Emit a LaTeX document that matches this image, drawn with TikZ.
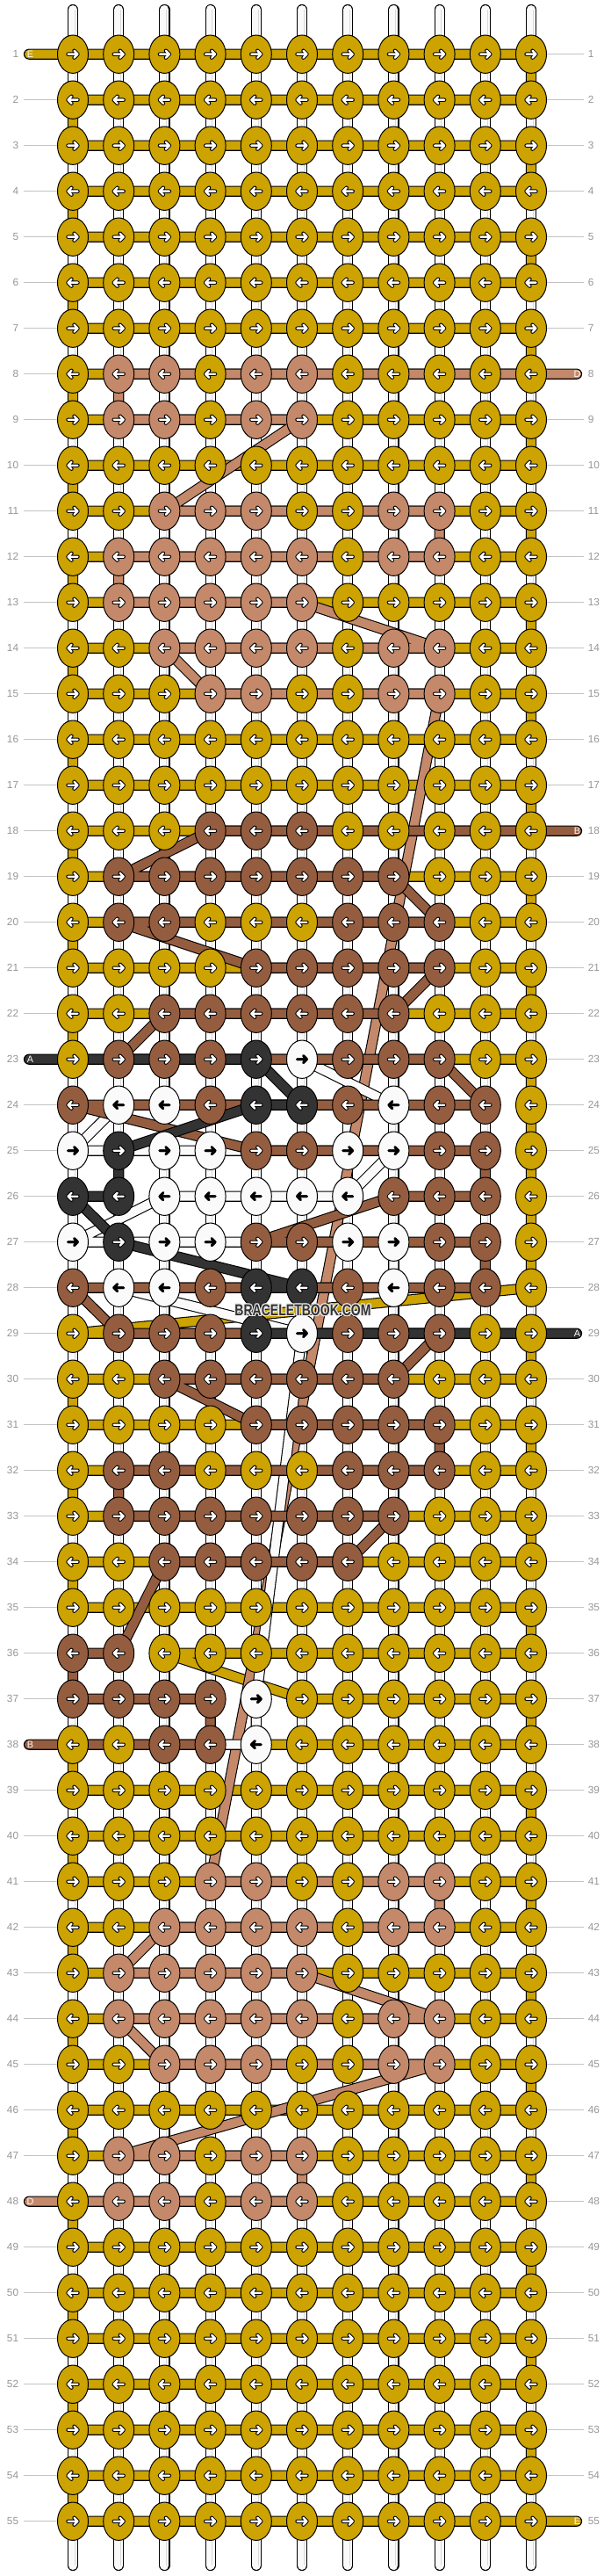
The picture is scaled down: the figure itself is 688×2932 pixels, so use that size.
\documentclass[tikz,border=0pt]{standalone}
\usepackage{fontspec}
\setmainfont{Liberation Sans}
\usetikzlibrary{shapes.geometric,calc}

\definecolor{colY}{RGB}{204,163,0}
\definecolor{colS}{RGB}{196,137,106}
\definecolor{colB}{RGB}{149,93,64}
\definecolor{colK}{RGB}{51,51,51}
\definecolor{colW}{RGB}{250,250,250}
\definecolor{labelgray}{RGB}{150,150,150}
\definecolor{linegray}{RGB}{195,195,195}

\tikzset{
  knot/.style={ellipse, draw=black, line width=0.5pt, minimum width=17.5pt, minimum height=21.7pt, inner sep=0pt},
  knotY/.style={knot, fill=colY},
  knotS/.style={knot, fill=colS},
  knotB/.style={knot, fill=colB},
  knotK/.style={knot, fill=colK},
  knotW/.style={knot, fill=colW},
  thread/.style={double distance=5pt, line width=0.55pt, line join=round, line cap=round},
  threadY/.style={thread, double=colY},
  threadS/.style={thread, double=colS},
  threadB/.style={thread, double=colB},
  threadK/.style={thread, double=colK},
  threadW/.style={thread, double=colW},
  basestring/.style={thread, double=colW},
  basecore/.style={draw=black!15, line width=0.3pt},
  back Y/.style={draw=black, line width=2.2pt, line cap=round, line join=round},
  back S/.style={back Y}, back B/.style={back Y}, back K/.style={back Y},
  back W/.style={draw=black, line width=1.4pt, line cap=round, line join=round},
  arr Y/.style={draw=white, line width=1.2pt, line cap=round, line join=round},
  arr S/.style={arr Y}, arr B/.style={arr Y}, arr K/.style={arr Y},
  arr W/.style={back W},
  rowlabel/.style={text=labelgray, font=\fontsize{5.9pt}{6pt}\selectfont, inner xsep=2.5pt, inner ysep=0pt},
  rowline/.style={draw=linegray, line width=0.5pt},
  tag/.style={text=white, font=\fontsize{5.4pt}{6pt}\selectfont, inner sep=0pt},
  watermark/.style={text=black!80, font=\bfseries\fontsize{9pt}{10pt}\selectfont, inner sep=0pt},
  halo/.style={watermark, text=white!92!black},
}

\begin{document}
\begin{tikzpicture}[x=0.5pt, y=-0.5pt]
%
    \fill[white] (0,0) rectangle (688,2932);
    \useasboundingbox (0,0) rectangle (688,2932);
%
    % knot grid
    \foreach \r in {1,...,55}
      \foreach \c in {1,...,11}
        \coordinate (p-\r-\c) at ({344+52.2*(\c-6)},{61.7+52*(\r-1)});
%
    % white base strings
    \foreach \c in {1,...,11} {
      \coordinate (top-\c) at ({344+52.2*(\c-6)},11);
      \coordinate (bot-\c) at ({344+52.2*(\c-6)},2920);
      \draw[basestring] (top-\c) -- (bot-\c);
      \draw[basecore] ([xshift=1pt]top-\c) -- ([xshift=1pt]bot-\c);
    }
%
    % loose ends
    \coordinate (in-E)  at (33,61.7);
    \coordinate (out-E) at (657,2869.7);
    \coordinate (in-D)  at (657,425.7);
    \coordinate (out-D) at (33,2505.7);
    \coordinate (in-B)  at (657,945.7);
    \coordinate (out-B) at (33,1985.7);
    \coordinate (in-A)  at (33,1205.7);
    \coordinate (out-A) at (657,1517.7);
%
    % E, yellow
    \draw[threadY] (in-E)
      \foreach \r [evaluate=\r as \s using int(\r+1)] in {1,3,...,21} { -- (p-\r-1) -- (p-\r-11) -- (p-\s-11) -- (p-\s-1) }
      -- (p-23-1) -- (p-23-11) -- (p-28-11) -- (p-29-1) -- (p-29-11)
      \foreach \r [evaluate=\r as \s using int(\r+1)] in {30,32,34} { -- (p-\r-11) -- (p-\r-1) -- (p-\s-1) -- (p-\s-11) }
      -- (p-36-11) -- (p-36-3) -- (p-37-6) -- (p-37-11) -- (p-38-11) -- (p-38-1)
      \foreach \r [evaluate=\r as \s using int(\r+1)] in {39,41,...,53} { -- (p-\r-1) -- (p-\r-11) -- (p-\s-11) -- (p-\s-1) }
      -- (p-55-1) -- (p-55-11) -- (out-E);
%
    % D, salmon
    \draw[threadS] (in-D) -- (p-8-2) -- (p-9-2) -- (p-9-6) -- (p-11-3) -- (p-11-9) -- (p-12-9) -- (p-12-2)
      -- (p-13-2) -- (p-13-6) -- (p-14-9) -- (p-14-3) -- (p-15-4) -- (p-15-9) -- (p-41-4) -- (p-41-9)
      -- (p-42-9) -- (p-42-3) -- (p-43-2) -- (p-43-6) -- (p-44-9) -- (p-44-2) -- (p-45-3) -- (p-45-9)
      -- (p-47-2) -- (p-47-6) -- (p-48-6) -- (out-D);
%
    % C, white
    \draw[threadW] (p-23-6) -- (p-24-8) -- (p-24-2) -- (p-25-1) -- (p-25-8) -- (p-26-7) -- (p-26-3)
      -- (p-27-1) -- (p-27-8) -- (p-28-8) -- (p-28-2) -- (p-29-6) -- (p-37-5) -- (p-38-5) -- (p-38-4);
%
    % B, brown
    \draw[threadB] (in-B) -- (p-18-4) -- (p-19-2) -- (p-19-8) -- (p-20-9) -- (p-20-2) -- (p-21-5) -- (p-21-9)
      -- (p-22-8) -- (p-22-3) -- (p-23-2) -- (p-23-9) -- (p-24-10) -- (p-24-1) -- (p-25-5) -- (p-25-10)
      -- (p-26-10) -- (p-26-8) -- (p-27-5) -- (p-27-10) -- (p-28-10) -- (p-28-1) -- (p-29-2) -- (p-29-9)
      -- (p-30-8) -- (p-30-3) -- (p-31-5) -- (p-31-9) -- (p-32-9) -- (p-32-2) -- (p-33-2) -- (p-33-8)
      -- (p-34-7) -- (p-34-3) -- (p-36-2) -- (p-36-1) -- (p-37-1) -- (p-37-4) -- (p-38-4) -- (out-B);
%
    % A, dark
    \draw[threadK] (in-A) -- (p-23-5) -- (p-24-6) -- (p-24-5) -- (p-25-2) -- (p-26-2) -- (p-26-1)
      -- (p-27-2) -- (p-28-6) -- (p-28-5) -- (p-29-5) -- (out-A);
%
    % knots, row by row
    \foreach \row [count=\r] in {
      {Y,Y,Y,Y,Y,Y,Y,Y,Y,Y,Y},{Y,Y,Y,Y,Y,Y,Y,Y,Y,Y,Y},{Y,Y,Y,Y,Y,Y,Y,Y,Y,Y,Y},{Y,Y,Y,Y,Y,Y,Y,Y,Y,Y,Y},
      {Y,Y,Y,Y,Y,Y,Y,Y,Y,Y,Y},{Y,Y,Y,Y,Y,Y,Y,Y,Y,Y,Y},{Y,Y,Y,Y,Y,Y,Y,Y,Y,Y,Y},
      {Y,S,S,Y,S,S,Y,Y,Y,Y,Y},{Y,S,S,Y,S,S,Y,Y,Y,Y,Y},{Y,Y,Y,Y,Y,Y,Y,Y,Y,Y,Y},
      {Y,Y,S,S,S,Y,Y,S,S,Y,Y},{Y,S,S,S,S,S,Y,S,S,Y,Y},{Y,S,S,S,S,S,Y,Y,Y,Y,Y},
      {Y,Y,S,S,S,S,Y,S,S,Y,Y},{Y,Y,Y,S,S,Y,Y,S,S,Y,Y},{Y,Y,Y,Y,Y,Y,Y,Y,Y,Y,Y},
      {Y,Y,Y,Y,Y,Y,Y,Y,Y,Y,Y},{Y,Y,Y,B,B,B,Y,Y,Y,Y,Y},{Y,B,B,B,B,B,B,B,Y,Y,Y},
      {Y,B,B,Y,Y,Y,B,B,B,Y,Y},{Y,Y,Y,Y,B,B,B,B,B,Y,Y},{Y,Y,B,B,B,B,B,B,Y,Y,Y},
      {Y,B,B,B,K,W,B,B,B,Y,Y},{B,W,W,B,K,K,B,W,B,B,Y},{W,K,W,W,B,B,W,W,B,B,Y},
      {K,K,W,W,W,W,W,B,B,B,Y},{W,K,W,W,B,B,W,W,B,B,Y},{B,W,W,B,K,K,B,W,B,B,Y},
      {Y,B,B,B,K,W,B,B,B,Y,Y},{Y,Y,B,B,B,B,B,B,Y,Y,Y},{Y,Y,Y,Y,B,B,B,B,B,Y,Y},
      {Y,B,B,Y,Y,Y,B,B,B,Y,Y},{Y,B,B,B,B,B,B,B,Y,Y,Y},{Y,Y,B,B,B,B,B,Y,Y,Y,Y},
      {Y,Y,Y,Y,Y,Y,Y,Y,Y,Y,Y},{B,B,Y,Y,Y,Y,Y,Y,Y,Y,Y},{B,B,B,B,W,Y,Y,Y,Y,Y,Y},
      {Y,Y,B,B,W,Y,Y,Y,Y,Y,Y},{Y,Y,Y,Y,Y,Y,Y,Y,Y,Y,Y},{Y,Y,Y,Y,Y,Y,Y,Y,Y,Y,Y},
      {Y,Y,Y,S,S,Y,Y,S,S,Y,Y},{Y,Y,S,S,S,S,Y,S,S,Y,Y},{Y,S,S,S,S,S,Y,Y,Y,Y,Y},
      {Y,S,S,S,S,S,Y,S,S,Y,Y},{Y,Y,S,S,S,Y,Y,S,S,Y,Y},{Y,Y,Y,Y,Y,Y,Y,Y,Y,Y,Y},
      {Y,S,S,Y,S,S,Y,Y,Y,Y,Y},{Y,S,S,Y,S,S,Y,Y,Y,Y,Y},{Y,Y,Y,Y,Y,Y,Y,Y,Y,Y,Y},
      {Y,Y,Y,Y,Y,Y,Y,Y,Y,Y,Y},{Y,Y,Y,Y,Y,Y,Y,Y,Y,Y,Y},{Y,Y,Y,Y,Y,Y,Y,Y,Y,Y,Y},
      {Y,Y,Y,Y,Y,Y,Y,Y,Y,Y,Y},{Y,Y,Y,Y,Y,Y,Y,Y,Y,Y,Y},{Y,Y,Y,Y,Y,Y,Y,Y,Y,Y,Y}} {
      \pgfmathtruncatemacro\kdir{2*isodd(\r)-1}
      \foreach \k [count=\c] in \row {
        \node[knot\k] (k-\r-\c) at (p-\r-\c) {};
        \draw[back \k, shift={(k-\r-\c.center)}, xscale=\kdir] (-5.5,0) -- (5.5,0) (1.5,-4) -- (5.5,0) -- (1.5,4);
        \draw[arr \k, shift={(k-\r-\c.center)}, xscale=\kdir] (-5.5,0) -- (5.5,0) (1.5,-4) -- (5.5,0) -- (1.5,4);
      }
    }
%
    % row numbers on both sides
    \foreach \r in {1,...,55} {
      \node[rowlabel, anchor=east] (ln-\r) at (26.5,{61.7+52*(\r-1)}) {\r};
      \node[rowlabel, anchor=west] (rn-\r) at (664.5,{61.7+52*(\r-1)}) {\r};
      \pgfmathtruncatemacro\hasL{(\r==1)||(\r==23)||(\r==38)||(\r==48)}
      \pgfmathtruncatemacro\hasR{(\r==8)||(\r==18)||(\r==29)||(\r==55)}
      \ifnum\hasL=0 \draw[rowline] (ln-\r.east) -- (k-\r-1.west); \fi
      \ifnum\hasR=0 \draw[rowline] (k-\r-11.east) -- (rn-\r.west); \fi
    }
%
    % string letters
    \node[tag] (tag-E1) at ([xshift=0.75pt]in-E) {E};
    \node[tag] (tag-E2) at ([xshift=0.25pt]out-E) {E};
    \node[tag] (tag-D1) at ([xshift=0.25pt]in-D) {D};
    \node[tag] (tag-D2) at ([xshift=0.75pt]out-D) {D};
    \node[tag] (tag-B1) at ([xshift=0.25pt]in-B) {B};
    \node[tag] (tag-B2) at ([xshift=0.75pt]out-B) {B};
    \node[tag] (tag-A1) at ([xshift=0.75pt]in-A) {A};
    \node[tag] (tag-A2) at ([xshift=0.25pt]out-A) {A};
%
    % site mark, with a pale rim
    \coordinate (wm-pos) at (345,1491);
    \foreach \dx/\dy in {0.6/0,-0.6/0,0/0.6,0/-0.6,0.45/0.45,-0.45/0.45,0.45/-0.45,-0.45/-0.45}
      \node[halo] at ([xshift=\dx pt, yshift=\dy pt]wm-pos) {\scalebox{0.78}[1]{BRACELETBOOK.COM}};
    \node[watermark] (wm) at (wm-pos) {\scalebox{0.78}[1]{BRACELETBOOK.COM}};
\end{tikzpicture}
\end{document}
